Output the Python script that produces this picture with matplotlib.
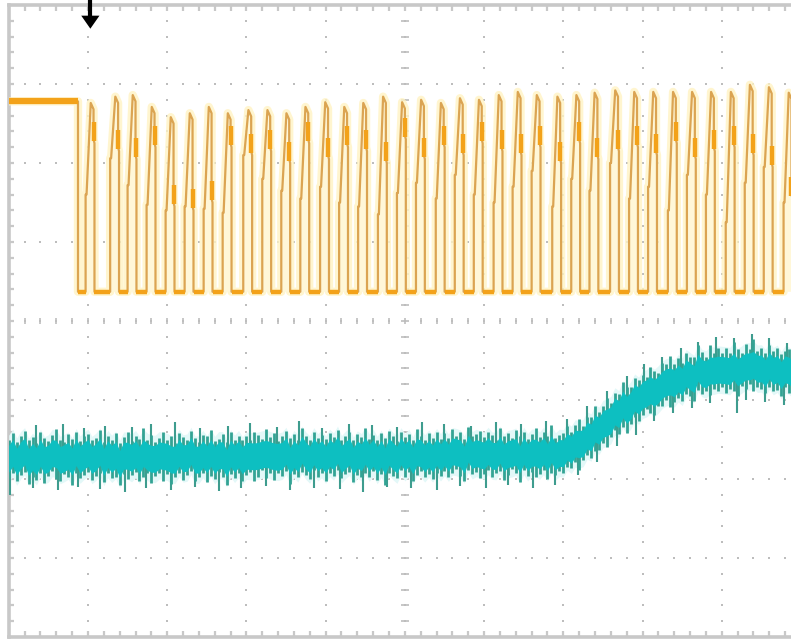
import numpy as np
import matplotlib
matplotlib.use("Agg")
import matplotlib.pyplot as plt

# ---------------- data (oscilloscope divisions: x 0..10, y 0..8) ----------------
trigger_pos = 1.03
ch1_high_before = 6.78
ch1_low = 4.37
ch1_edge = 0.874

pulse_start = [0.97, 1.28, 1.50, 1.74, 1.98, 2.22, 2.46, 2.70, 2.96, 3.20,
               3.44, 3.68, 3.93, 4.17, 4.41, 4.66, 4.90, 5.14, 5.39, 5.63,
               5.87, 6.12, 6.36, 6.60, 6.86, 7.10, 7.33, 7.59, 7.83, 8.07,
               8.32, 8.56, 8.80, 9.05, 9.29, 9.53, 9.78]
pulse_peak = [6.76, 6.84, 6.86, 6.71, 6.58, 6.63, 6.71, 6.63, 6.67, 6.67,
              6.63, 6.71, 6.77, 6.71, 6.76, 6.84, 6.77, 6.80, 6.76, 6.82,
              6.80, 6.86, 6.90, 6.86, 6.84, 6.86, 6.89, 6.92, 6.90, 6.90,
              6.90, 6.90, 6.90, 6.90, 6.99, 6.96, 6.89]
rise_step = [5.60, 6.06, 5.72, 5.47, 5.40, 5.45, 5.42, 5.37, 6.10, 5.80,
             5.65, 5.55, 5.70, 5.50, 5.45, 5.35, 5.62, 5.75, 5.55, 5.85,
             5.60, 5.50, 5.70, 5.90, 5.45, 5.80, 5.65, 6.00, 5.55, 5.70,
             5.40, 5.85, 5.60, 5.25, 5.75, 5.95, 5.50]
fall_step = [6.30, 6.20, 6.10, 6.25, 5.50, 5.45, 5.55, 6.25, 6.15, 6.20,
             6.05, 6.30, 6.10, 6.25, 6.20, 6.05, 6.35, 6.10, 6.25, 6.15,
             6.30, 6.20, 6.15, 6.25, 6.05, 6.30, 6.10, 6.20, 6.25, 6.15,
             6.30, 6.10, 6.20, 6.25, 6.15, 6.00, 5.60]
pulse_width = 0.10

# channel 2 noise envelope, sampled every 0.05 div from 0 to 9.9
ch2_top = [
    2.50, 2.58, 2.47, 2.55, 2.61, 2.49, 2.53, 2.46, 2.59, 2.52,
    2.48, 2.56, 2.63, 2.50, 2.47, 2.57, 2.51, 2.60, 2.48, 2.54,
    2.57, 2.49, 2.52, 2.62, 2.47, 2.55, 2.50, 2.58, 2.46, 2.53,
    2.59, 2.48, 2.54, 2.51, 2.64, 2.49, 2.56, 2.47, 2.52, 2.60,
    2.50, 2.55, 2.46, 2.58, 2.53, 2.49, 2.61, 2.52, 2.47, 2.56,
    2.54, 2.62, 2.48, 2.51, 2.57, 2.47, 2.59, 2.50, 2.55, 2.49,
    2.54, 2.49, 2.60, 2.56, 2.51, 2.63, 2.53, 2.58, 2.48, 2.55,
    2.61, 2.52, 2.57, 2.50, 2.65, 2.54, 2.49, 2.59, 2.52, 2.56,
    2.51, 2.58, 2.53, 2.62, 2.49, 2.55, 2.60, 2.50, 2.57, 2.53,
    2.64, 2.51, 2.56, 2.49, 2.58, 2.52, 2.61, 2.54, 2.48, 2.59,
    2.53, 2.57, 2.50, 2.63, 2.55, 2.49, 2.58, 2.52, 2.60, 2.51,
    2.58, 2.52, 2.63, 2.55, 2.60, 2.51, 2.66, 2.54, 2.57, 2.61,
    2.53, 2.59, 2.56, 2.50, 2.64, 2.55, 2.58, 2.52, 2.62, 2.54,
    2.60, 2.51, 2.57, 2.65, 2.53, 2.59, 2.55, 2.68, 2.52, 2.56,
    2.58, 2.67, 2.60, 2.68, 2.76, 2.67, 2.79, 2.79, 2.93, 2.85,
    2.93, 3.02, 2.96, 3.09, 3.07, 3.23, 3.17, 3.16, 3.28, 3.25,
    3.32, 3.29, 3.42, 3.37, 3.34, 3.47, 3.45, 3.56, 3.45, 3.53,
    3.47, 3.60, 3.55, 3.54, 3.69, 3.61, 3.54, 3.69, 3.60, 3.66,
    3.60, 3.66, 3.59, 3.73, 3.65, 3.59, 3.71, 3.65, 3.77, 3.62,
    3.66, 3.59, 3.70, 3.62, 3.66, 3.58, 3.62, 3.65, 3.57]
ch2_bottom = [
    2.01, 2.08, 1.97, 2.05, 2.09, 1.94, 2.03, 1.99, 2.07, 1.95,
    2.04, 2.10, 2.00, 1.98, 2.06, 2.02, 1.93, 2.08, 2.01, 2.05,
    2.09, 1.99, 2.04, 2.07, 1.96, 2.08, 2.01, 2.03, 1.92, 2.06,
    2.00, 2.05, 2.09, 1.97, 2.02, 2.07, 1.95, 2.04, 2.08, 1.98,
    2.06, 1.94, 2.03, 2.08, 1.99, 2.05, 2.10, 1.97, 2.02, 2.07,
    1.96, 2.04, 2.00, 2.09, 2.03, 1.93, 2.06, 2.01, 2.08, 1.98,
    2.05, 2.09, 1.97, 2.03, 2.11, 2.01, 2.07, 1.99, 2.08, 2.04,
    2.10, 1.94, 2.06, 2.02, 2.09, 2.05, 2.00, 2.11, 2.03, 2.07,
    1.98, 2.08, 2.04, 2.12, 2.01, 2.06, 2.09, 1.96, 2.05, 2.02,
    2.07, 2.03, 2.10, 1.99, 2.06, 1.93, 2.08, 2.04, 2.01, 2.11,
    2.02, 2.09, 1.97, 2.05, 2.10, 2.03, 2.06, 2.00, 2.08, 2.04,
    2.10, 2.02, 2.07, 2.13, 2.04, 1.98, 2.11, 2.06, 2.09, 2.01,
    2.06, 2.12, 2.03, 2.08, 2.10, 1.99, 2.05, 2.13, 2.07, 1.96,
    2.11, 2.04, 2.09, 2.02, 2.06, 2.12, 2.00, 2.08, 2.05, 2.10,
    2.07, 2.15, 2.14, 2.22, 2.12, 2.24, 2.31, 2.26, 2.35, 2.37,
    2.46, 2.41, 2.53, 2.62, 2.57, 2.66, 2.58, 2.70, 2.78, 2.73,
    2.81, 2.88, 2.83, 2.81, 2.93, 2.92, 3.00, 2.91, 2.97, 3.02,
    2.99, 3.08, 3.05, 2.99, 3.13, 3.07, 3.11, 3.06, 3.14, 3.11,
    3.16, 3.09, 3.14, 3.12, 3.05, 3.18, 3.14, 3.20, 3.12, 3.17,
    3.14, 3.09, 3.17, 3.11, 3.13, 3.05, 3.16, 3.09, 3.06]
ch2_x = [round(0.05 * i, 2) for i in range(len(ch2_top))]

up_x = [0.35, 0.68, 0.95, 1.22, 1.55, 1.80, 2.10, 2.42, 2.77, 3.05, 3.38, 3.66,
        3.95, 4.30, 4.58, 4.90, 5.22, 5.50, 5.84, 6.15, 6.46, 6.78, 7.05, 7.30,
        7.55, 7.80, 8.02, 8.25, 8.48, 8.70, 8.93, 9.15, 9.38, 9.60, 9.82]
up_y = [2.68, 2.70, 2.64, 2.67, 2.66, 2.69, 2.72, 2.65, 2.67, 2.71, 2.66, 2.73,
        2.65, 2.70, 2.68, 2.66, 2.72, 2.69, 2.67, 2.72, 2.70, 2.74, 2.76, 2.92,
        3.12, 3.30, 3.46, 3.55, 3.66, 3.74, 3.80, 3.78, 3.84, 3.78, 3.72]
down_x = [0.02, 0.30, 0.62, 0.88, 1.15, 1.47, 1.73, 2.05, 2.35, 2.66, 2.93, 3.25,
          3.55, 3.85, 4.18, 4.47, 4.78, 5.08, 5.40, 5.70, 6.02, 6.30, 6.62, 6.90,
          7.18, 7.42, 7.68, 7.92, 8.15, 8.38, 8.62, 8.85, 9.19, 9.30, 9.55, 9.78]
down_y = [1.80, 1.88, 1.86, 1.90, 1.87, 1.84, 1.89, 1.86, 1.90, 1.85, 1.88, 1.91,
          1.86, 1.89, 1.87, 1.84, 1.90, 1.88, 1.86, 1.91, 1.88, 1.92, 1.89, 1.93,
          2.05, 2.22, 2.42, 2.56, 2.74, 2.84, 2.90, 2.96, 2.84, 3.00, 2.98, 2.94]

# ---------------- figure ----------------
W, H = 791, 640
fig = plt.figure(figsize=(W / 100, H / 100), dpi=100)
ax = fig.add_axes([8.75 / W, 3 / H, 792.25 / W, 632 / H])
ax.set_xlim(0, 10)
ax.set_ylim(0, 8)
ax.axis("off")

grid_c = "#BDBDBD"
minor = np.arange(0.2, 10.0, 0.2)
minor_y = np.arange(0.2, 8.0, 0.2)
for gx in range(1, 10):
    ax.scatter(np.full(len(minor_y), gx), minor_y, s=2.2, marker="s", color=grid_c, lw=0, zorder=1)
for gy in range(1, 8):
    ax.scatter(minor, np.full(len(minor), gy), s=2.2, marker="s", color=grid_c, lw=0, zorder=1)
ax.vlines(minor, 4 - 0.04, 4 + 0.04, color=grid_c, lw=1.2, zorder=1)
ax.hlines(minor_y, 5 - 0.05, 5 + 0.05, color=grid_c, lw=1.2, zorder=1)
bc = "#C8C8C8"
ax.plot([0, 0], [0, 8], color=bc, lw=2.6, clip_on=False, zorder=1)
ax.plot([0, 10], [8, 8], color=bc, lw=2.6, clip_on=False, zorder=1)
ax.plot([0, 10], [0, 0], color=bc, lw=2.6, clip_on=False, zorder=1)
ax.hlines(minor_y, 0, 0.07, color=bc, lw=1.6, zorder=1)
ax.vlines(minor, 8 - 0.07, 8, color=bc, lw=1.6, zorder=1)
ax.vlines(minor, 0, 0.07, color=bc, lw=1.6, zorder=1)

# ---------------- channel 1 (orange pulse train) ----------------
xs = [0, ch1_edge, ch1_edge]
ys = [ch1_high_before, ch1_high_before, ch1_low]
fills = []
for x0, pk, rs, fs in zip(pulse_start, pulse_peak, rise_step, fall_step):
    w = pulse_width
    px_ = [x0, x0, x0 + 0.012, x0 + 0.065, x0 + w, x0 + w, x0 + w + 0.012, x0 + w + 0.012]
    py_ = [ch1_low, rs, rs, pk, pk - 0.08, fs, fs - 0.05, ch1_low]
    xs += px_
    ys += py_
    fills.append((px_, py_))
xs.append(10)
ys.append(ch1_low)

ax.plot(xs, ys, color="#FFF3C4", lw=6, alpha=0.8, solid_joinstyle="round", zorder=2)
for px_, py_ in fills:
    ax.fill(px_, py_, color="#FFF7D8", lw=0, zorder=2)
ax.plot(xs, ys, color="#DBA452", lw=1.6, zorder=3)
ax.plot([0, ch1_edge], [ch1_high_before, ch1_high_before], color="#F3A21A", lw=4.5,
        solid_capstyle="butt", zorder=4)
ends = [s + pulse_width + 0.012 for s in pulse_start]
starts = pulse_start[1:] + [10]
ax.hlines([ch1_low] * len(ends), ends, starts, color="#F3A21A", lw=3.2, zorder=4)
ax.hlines([ch1_low], ch1_edge, pulse_start[0], color="#F3A21A", lw=3.2, zorder=4)
for x0, fs in zip(pulse_start, fall_step):
    ax.vlines(x0 + pulse_width, fs - 0.02, fs + 0.22, color="#F3A21A", lw=3.2, zorder=4)

# ---------------- channel 2 (cyan noisy trace) ----------------
top = np.array(ch2_top)
bot = np.array(ch2_bottom)
mid = (top + bot) / 2
ax.fill_between(ch2_x, mid - 0.30, mid + 0.30, color="#E3F8F8", lw=0, zorder=5)
ax.vlines(up_x, np.array(up_y) - 0.45, up_y, color="#3E9C8E", lw=1.5, zorder=5)
ax.vlines(down_x, down_y, np.array(down_y) + 0.45, color="#3E9C8E", lw=1.5, zorder=5)
ax.vlines(ch2_x, bot, top, color="#33A394", lw=2.0, zorder=6)
ax.fill_between(ch2_x, mid - 0.17, mid + 0.17, color="#0DBFC1", lw=0, zorder=7)

# ---------------- trigger marker ----------------
ax.plot([trigger_pos, trigger_pos], [7.84, 8.07], color="black", lw=3.0,
        clip_on=False, solid_capstyle="butt", zorder=8)
ax.fill([trigger_pos - 0.115, trigger_pos + 0.115, trigger_pos],
        [7.865, 7.865, 7.70], color="black", lw=0, zorder=8)

fig.savefig("out.png", dpi=100)
